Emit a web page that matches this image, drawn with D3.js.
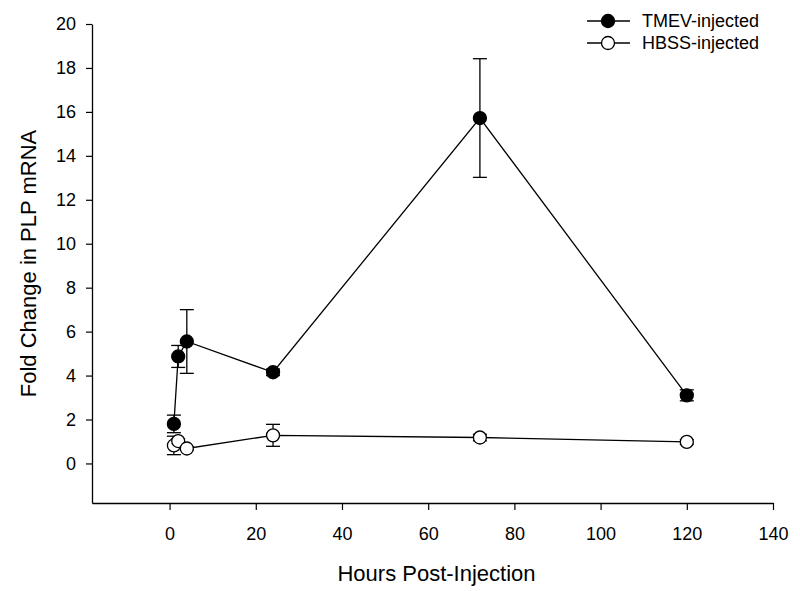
<!DOCTYPE html>
<html>
<head>
<meta charset="utf-8">
<script src="https://cdn.jsdelivr.net/npm/d3@7"></script>
<style>
  body { margin: 0; background: #fff; }
  svg { font-family: "Liberation Sans", Arial, sans-serif; }
</style>
</head>
<body>
<div id="chart"></div>
<script>
// Values
const hours = [1, 2, 4, 24, 72, 120];
const tmevMean = [1.8, 4.87, 5.55, 4.15, 15.72, 3.1];
const tmevErr  = [0.4, 0.5, 1.45, 0.15, 2.7, 0.25];
const hbssMean = [0.82, 1.02, 0.68, 1.28, 1.18, 0.98];
const hbssErr  = [0.42, 0.1, 0.08, 0.5, 0.15, 0.1];
const xTicks = [0, 20, 40, 60, 80, 100, 120, 140];
const yTicks = [0, 2, 4, 6, 8, 10, 12, 14, 16, 18, 20];

const series = [
  { name: 'TMEV-injected', mean: tmevMean, err: tmevErr, fill: '#000' },
  { name: 'HBSS-injected', mean: hbssMean, err: hbssErr, fill: '#fff' },
];

const width = 800, height = 591;
const svg = d3.select('#chart').append('svg')
  .attr('width', width).attr('height', height);

const x = d3.scaleLinear().domain([-18, 140]).range([92, 773]);
const y = d3.scaleLinear().domain([-1.8, 20]).range([503, 24]);

// axes
const xAxis = svg.append('g').attr('transform', `translate(0,${y(-1.8)})`)
  .call(d3.axisBottom(x).tickValues(xTicks).tickSize(7).tickPadding(17).tickSizeOuter(0));
const yAxis = svg.append('g').attr('transform', `translate(${x(-18)},0)`)
  .call(d3.axisLeft(y).tickValues(yTicks).tickSize(6).tickPadding(10).tickSizeOuter(0));
[xAxis, yAxis].forEach(g => {
  g.select('.domain').attr('stroke', '#000').attr('stroke-width', 1.3);
  g.selectAll('.tick line').attr('stroke', '#000').attr('stroke-width', 1.2);
  g.selectAll('.tick text').attr('font-size', 18).attr('fill', '#000')
    .attr('font-family', '"Liberation Sans", Arial, sans-serif');
});

svg.append('text').attr('x', (x(-18) + x(140)) / 2 + 4).attr('y', 581)
  .attr('text-anchor', 'middle').attr('font-size', 22).text('Hours Post-Injection');
svg.append('text').attr('transform', `translate(36,${y(9.1)}) rotate(-90)`)
  .attr('text-anchor', 'middle').attr('font-size', 22).text('Fold Change in PLP mRNA');

const line = d3.line().x(d => x(d.h)).y(d => y(d.m));

series.forEach(s => {
  const pts = hours.map((h, i) => ({ h, m: s.mean[i], e: s.err[i] }));
  svg.append('path').datum(pts).attr('d', line)
    .attr('fill', 'none').attr('stroke', '#000').attr('stroke-width', 1.3);

  const eb = svg.append('g').attr('stroke', '#000').attr('stroke-width', 1.3);
  pts.forEach(p => {
    eb.append('line').attr('x1', x(p.h)).attr('x2', x(p.h))
      .attr('y1', y(p.m - p.e)).attr('y2', y(p.m + p.e));
    [p.m - p.e, p.m + p.e].forEach(v => {
      eb.append('line').attr('x1', x(p.h) - 7).attr('x2', x(p.h) + 7)
        .attr('y1', y(v)).attr('y2', y(v));
    });
  });
});

series.forEach(s => {
  const pts = hours.map((h, i) => ({ h, m: s.mean[i] }));
  svg.append('g').selectAll('circle').data(pts).join('circle')
    .attr('cx', d => x(d.h)).attr('cy', d => y(d.m)).attr('r', 6.5)
    .attr('fill', s.fill).attr('stroke', '#000').attr('stroke-width', 1.3);
});

// legend
const leg = svg.append('g');
series.forEach((s, i) => {
  const ly = 21 + i * 22;
  leg.append('line').attr('x1', 587).attr('x2', 630).attr('y1', ly).attr('y2', ly)
    .attr('stroke', '#000').attr('stroke-width', 1.3);
  leg.append('circle').attr('cx', 608).attr('cy', ly).attr('r', 6.5)
    .attr('fill', s.fill).attr('stroke', '#000').attr('stroke-width', 1.3);
  leg.append('text').attr('x', 642).attr('y', ly).attr('dy', '0.35em')
    .attr('font-size', 18).text(s.name);
});
</script>
</body>
</html>
